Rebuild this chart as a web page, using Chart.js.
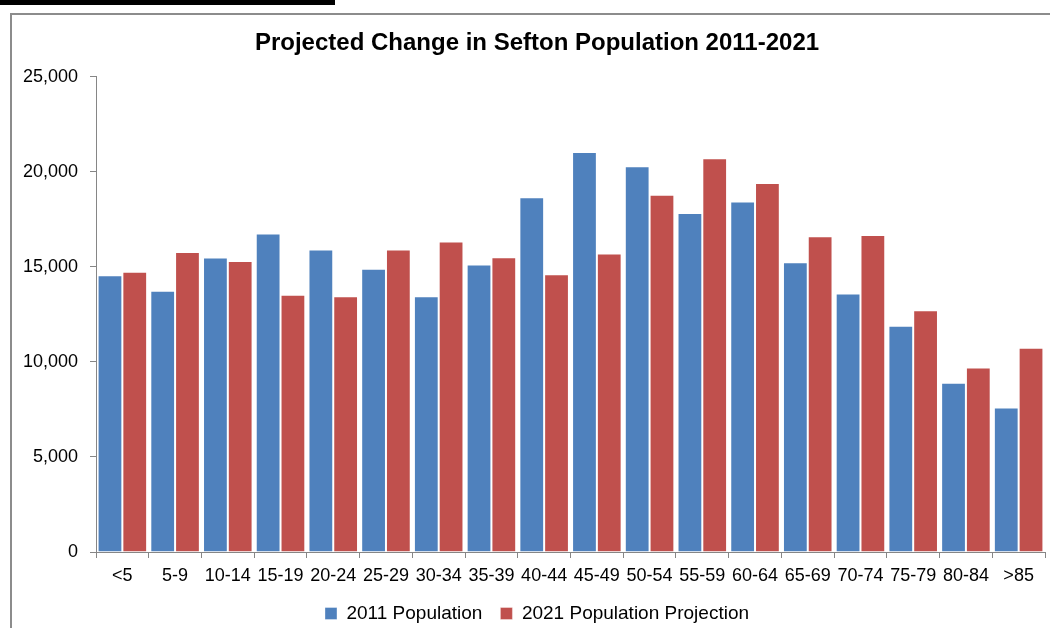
<!DOCTYPE html>
<html>
<head>
<meta charset="utf-8">
<script src="https://cdn.jsdelivr.net/npm/chart.js@4.4.0/dist/chart.umd.min.js"></script>
<style>
  html, body { margin: 0; padding: 0; background: #fff; overflow: hidden; }
  body { width: 1050px; height: 628px; position: relative; }
  .cut-heading { position: absolute; left: 0; top: 0; width: 335px; height: 5px; background: #000; }
  .frame { position: absolute; left: 10px; top: 13px; width: 1100px; height: 700px; border: 2px solid #8c8c8c; box-sizing: border-box; }
  #chart { position: absolute; left: 0; top: 0; }
</style>
</head>
<body>
<div class="cut-heading"></div>
<div class="frame"></div>
<canvas id="chart" width="1064" height="633"></canvas>
<script>
// age bands along the x axis
const ageGroups = ['<5', '5-9', '10-14', '15-19', '20-24', '25-29', '30-34', '35-39', '40-44',
  '45-49', '50-54', '55-59', '60-64', '65-69', '70-74', '75-79', '80-84', '>85'];

// population counts
const pop2011 = [14560, 13740, 15500, 16750, 15920, 14900, 13460, 15120, 18660,
  21050, 20300, 17840, 18440, 15240, 13600, 11900, 8900, 7600];
const pop2021 = [14750, 15780, 15310, 13530, 13460, 15920, 16340, 15510, 14610,
  15710, 18800, 20710, 19410, 16610, 16680, 12720, 9700, 10740];

const yTicks = [0, 5000, 10000, 15000, 20000, 25000];

const axisGrey = '#868686';
const font = { family: '"Liberation Sans", Arial, sans-serif', size: 18 };

new Chart(document.getElementById('chart'), {
  type: 'bar',
  data: {
    labels: ageGroups,
    datasets: [
      {
        label: '2011 Population',
        data: pop2011,
        backgroundColor: '#4F81BD',
        borderColor: 'rgba(255,255,255,0.35)',
        borderWidth: 1,
        barPercentage: 1,
        categoryPercentage: 0.94
      },
      {
        label: '2021 Population Projection',
        data: pop2021,
        backgroundColor: '#C0504D',
        borderColor: 'rgba(255,255,255,0.35)',
        borderWidth: 1,
        barPercentage: 1,
        categoryPercentage: 0.94
      }
    ]
  },
  options: {
    responsive: false,
    animation: false,
    layout: { padding: { left: 10, right: 0, top: 0, bottom: 0 } },
    plugins: {
      title: {
        display: true,
        text: 'Projected Change in Sefton Population 2011-2021',
        color: '#000',
        font: { family: font.family, size: 24, weight: 'bold' },
        padding: { top: 29, bottom: 19 }
      },
      legend: {
        position: 'bottom',
        labels: {
          color: '#000',
          font: { family: font.family, size: 19 },
          boxWidth: 12,
          boxHeight: 12,
          padding: 18
        }
      },
      tooltip: { enabled: false }
    },
    scales: {
      x: {
        grid: { display: true, drawOnChartArea: false, tickLength: 6, color: axisGrey, offset: true },
        border: { color: axisGrey, width: 1 },
        ticks: { color: '#000', font: font, padding: 7, maxRotation: 0, autoSkip: false },
        afterFit: (scale) => { scale.height = 34; }
      },
      y: {
        min: 0,
        max: 25000,
        afterBuildTicks: (scale) => { scale.ticks = yTicks.map(v => ({ value: v })); },
        grid: { display: true, drawOnChartArea: false, tickLength: 6, color: axisGrey },
        border: { color: axisGrey, width: 1 },
        ticks: {
          color: '#000',
          font: font,
          padding: 12,
          callback: (v) => v.toLocaleString('en-US')
        },
        afterFit: (scale) => { scale.width = 86; }
      },
      // empty right-hand strip so title and legend centre where the original does
      spacer: {
        type: 'linear',
        position: 'right',
        display: true,
        grid: { display: false },
        border: { display: false },
        ticks: { display: false },
        afterFit: (scale) => { scale.width = 19; }
      }
    }
  }
});
</script>
</body>
</html>
